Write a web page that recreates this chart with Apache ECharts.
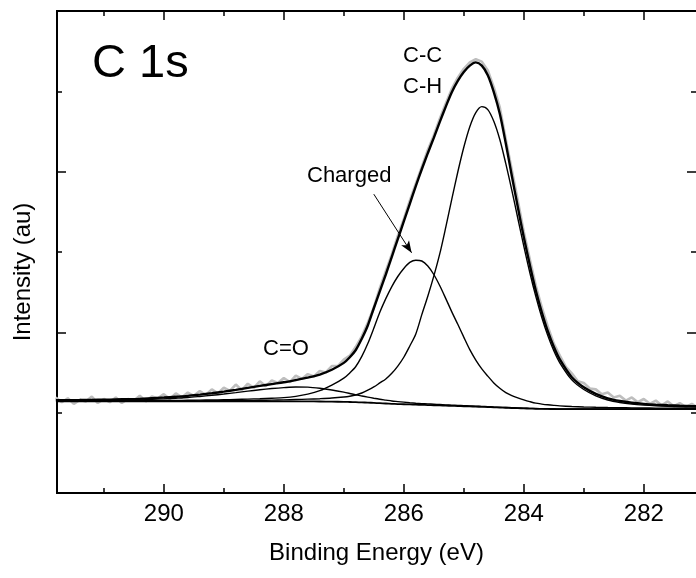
<!DOCTYPE html>
<html>
<head>
<meta charset="utf-8">
<script src="https://cdn.jsdelivr.net/npm/echarts@6/dist/echarts.min.js"></script>
<style>
html, body { margin: 0; padding: 0; background: #fff; }
#main { width: 696px; height: 578px; }
</style>
</head>
<body>
<div id="main"></div>
<script>
// binding energy grid of the fitted curves (eV), finer across the peak
var energy = [291.8, 291.6, 291.4, 291.2, 291.0, 290.8, 290.6, 290.4, 290.2, 290.0,
    289.8, 289.6, 289.4, 289.2, 289.0, 288.8, 288.6, 288.4, 288.2, 288.0,
    287.8, 287.6, 287.4, 287.2,
    287.0, 286.9, 286.8, 286.7, 286.6, 286.5, 286.4, 286.3, 286.2, 286.1,
    286.0, 285.9, 285.8, 285.7, 285.6, 285.5, 285.4, 285.3, 285.2, 285.1,
    285.0, 284.9, 284.8, 284.7, 284.6, 284.5, 284.4, 284.3, 284.2, 284.1,
    284.0, 283.9, 283.8, 283.7, 283.6, 283.5, 283.4,
    283.2, 283.0, 282.8, 282.6, 282.4, 282.2, 282.0, 281.8, 281.6, 281.4,
    281.2, 281.0];

var background = [1.14, 1.14, 1.14, 1.14, 1.14, 1.14, 1.14, 1.14, 1.14, 1.14,
    1.14, 1.14, 1.14, 1.14, 1.14, 1.14, 1.14, 1.14, 1.14, 1.14,
    1.14, 1.14, 1.139, 1.137,
    1.135, 1.1325, 1.130, 1.1275, 1.125, 1.1215, 1.118, 1.114, 1.110, 1.1075,
    1.105, 1.1025, 1.100, 1.0975, 1.095, 1.0925, 1.090, 1.0875, 1.085, 1.0825,
    1.080, 1.0775, 1.075, 1.0725, 1.070, 1.067, 1.064, 1.061, 1.058, 1.0555,
    1.053, 1.0505, 1.048, 1.047, 1.046, 1.0455, 1.045,
    1.045, 1.045, 1.045, 1.045, 1.045, 1.045, 1.045, 1.045, 1.045, 1.045,
    1.045, 1.045];

var peakCC = [1.143, 1.143, 1.143, 1.143, 1.143, 1.144, 1.144, 1.144, 1.145, 1.145,
    1.146, 1.146, 1.147, 1.148, 1.149, 1.150, 1.152, 1.154, 1.156, 1.159,
    1.163, 1.168, 1.174, 1.182,
    1.195, 1.205, 1.220, 1.245, 1.280, 1.320, 1.370, 1.420, 1.490, 1.580,
    1.690, 1.830, 1.980, 2.220, 2.450, 2.700, 2.979, 3.310, 3.658, 3.996,
    4.304, 4.560, 4.736, 4.810, 4.773, 4.627, 4.400, 4.100, 3.770, 3.420,
    3.073, 2.745, 2.447, 2.184, 1.959, 1.770, 1.621,
    1.408, 1.288, 1.210, 1.158, 1.127, 1.107, 1.094, 1.085, 1.079, 1.074,
    1.070, 1.066];

var peakCharged = [1.145, 1.146, 1.146, 1.147, 1.147, 1.148, 1.148, 1.149, 1.150, 1.151,
    1.152, 1.154, 1.156, 1.158, 1.161, 1.165, 1.169, 1.174, 1.180, 1.187,
    1.203, 1.230, 1.274, 1.344,
    1.430, 1.495, 1.575, 1.700, 1.860, 2.050, 2.250, 2.420, 2.570, 2.695,
    2.795, 2.870, 2.898, 2.888, 2.825, 2.720, 2.580, 2.420, 2.255, 2.100,
    1.940, 1.785, 1.655, 1.545, 1.455, 1.370, 1.304, 1.250, 1.213, 1.184,
    1.159, 1.137, 1.118, 1.107, 1.098, 1.091, 1.085,
    1.077, 1.071, 1.067, 1.064, 1.062, 1.060, 1.058, 1.057, 1.056, 1.055,
    1.054, 1.053];

var peakCO = [1.146, 1.147, 1.148, 1.149, 1.151, 1.153, 1.156, 1.159, 1.165, 1.172,
    1.180, 1.189, 1.202, 1.216, 1.232, 1.249, 1.268, 1.285, 1.300, 1.312,
    1.320, 1.318, 1.304, 1.282,
    1.255, 1.239, 1.222, 1.208, 1.194, 1.180, 1.167, 1.156, 1.145, 1.138,
    1.131, 1.124, 1.118, 1.113, 1.109, 1.105, 1.101, 1.097, 1.094, 1.090,
    1.087, 1.084, 1.081, 1.078, 1.075, 1.071, 1.068, 1.065, 1.062, 1.059,
    1.057, 1.054, 1.051, 1.050, 1.049, 1.048, 1.047,
    1.047, 1.047, 1.047, 1.047, 1.047, 1.047, 1.047, 1.047, 1.047, 1.047,
    1.047, 1.047];

var envelope = [1.154, 1.156, 1.157, 1.159, 1.161, 1.165, 1.168, 1.172, 1.180, 1.188,
    1.198, 1.209, 1.225, 1.242, 1.262, 1.284, 1.309, 1.333, 1.356, 1.378,
    1.406, 1.436, 1.474, 1.534,
    1.620, 1.690, 1.780, 1.920, 2.085, 2.300, 2.510, 2.720, 2.940, 3.160,
    3.380, 3.600, 3.820, 4.030, 4.230, 4.420, 4.620, 4.810, 4.990, 5.130,
    5.240, 5.320, 5.360, 5.320, 5.200, 4.990, 4.720, 4.350, 3.950, 3.560,
    3.183, 2.840, 2.520, 2.250, 2.014, 1.820, 1.663,
    1.442, 1.316, 1.234, 1.179, 1.146, 1.124, 1.109, 1.099, 1.092, 1.086,
    1.081, 1.077];

// measured spectrum (grey)
var rawEnergy = [291.8, 291.7, 291.6, 291.5, 291.4, 291.3, 291.2, 291.1, 291.0, 290.9,
    290.8, 290.7, 290.6, 290.5, 290.4, 290.3, 290.2, 290.1, 290.0, 289.9,
    289.8, 289.7, 289.6, 289.5, 289.4, 289.3, 289.2, 289.1, 289.0, 288.9,
    288.8, 288.7, 288.6, 288.5, 288.4, 288.3, 288.2, 288.1, 288.0, 287.9,
    287.8, 287.7, 287.6, 287.5, 287.4, 287.3, 287.2, 287.1, 287.0, 286.9,
    286.8, 286.7, 286.6, 286.5, 286.4, 286.3, 286.2, 286.1, 286.0, 285.9,
    285.8, 285.7, 285.6, 285.5, 285.4, 285.3, 285.2, 285.1, 285.0, 284.9,
    284.8, 284.7, 284.6, 284.5, 284.4, 284.3, 284.2, 284.1, 284.0, 283.9,
    283.8, 283.7, 283.6, 283.5, 283.4, 283.3, 283.2, 283.1, 283.0, 282.9,
    282.8, 282.7, 282.6, 282.5, 282.4, 282.3, 282.2, 282.1, 282.0, 281.9,
    281.8, 281.7, 281.6, 281.5, 281.4, 281.3, 281.2, 281.1, 281.0];

var rawCounts = [1.19, 1.13, 1.18, 1.11, 1.16, 1.14, 1.20, 1.12, 1.17, 1.13,
    1.19, 1.12, 1.17, 1.15, 1.21, 1.14, 1.20, 1.18, 1.23, 1.17,
    1.24, 1.19, 1.25, 1.21, 1.27, 1.22, 1.29, 1.24, 1.31, 1.27,
    1.35, 1.28, 1.36, 1.31, 1.39, 1.33, 1.40, 1.37, 1.43, 1.38,
    1.46, 1.42, 1.48, 1.45, 1.52, 1.50, 1.58, 1.58, 1.66, 1.71,
    1.82, 1.95, 2.12, 2.31, 2.55, 2.76, 2.97, 3.20, 3.41, 3.64,
    3.85, 4.06, 4.27, 4.45, 4.66, 4.85, 5.03, 5.17, 5.28, 5.36,
    5.40, 5.37, 5.26, 5.05, 4.80, 4.40, 4.02, 3.64, 3.25, 2.91,
    2.58, 2.31, 2.07, 1.86, 1.71, 1.57, 1.49, 1.39, 1.37, 1.30,
    1.29, 1.23, 1.25, 1.19, 1.21, 1.15, 1.19, 1.13, 1.17, 1.11,
    1.15, 1.09, 1.14, 1.08, 1.12, 1.07, 1.11, 1.06, 1.10];

var majorTicks = [282, 284, 286, 288, 290];
var minorTicks = [283, 285, 287, 289, 291];

var FONT = '"Liberation Sans", Arial, sans-serif';

function pairs(xs, ys) {
    return xs.map(function (x, i) { return [x, ys[i]]; });
}

function energyAxis(pos, ticks, len, withLabels) {
    return {
        type: 'value',
        position: pos,
        min: 281.13,
        max: 291.78,
        inverse: true,
        axisLine: { show: true, lineStyle: { color: '#000', width: 2 } },
        axisTick: { show: true, inside: true, length: len, customValues: ticks,
            lineStyle: { color: '#000', width: 1.5 } },
        axisLabel: { show: withLabels, customValues: ticks, margin: 9,
            color: '#000', fontSize: 24, fontFamily: FONT },
        splitLine: { show: false }
    };
}

function intensityAxis(pos, showLine) {
    return {
        type: 'value',
        position: pos,
        min: 0,
        max: 6,
        interval: 2,
        axisLine: { show: showLine, lineStyle: { color: '#000', width: 2 } },
        axisTick: { show: true, inside: true, length: 9, lineStyle: { color: '#000', width: 1.5 } },
        minorTick: { show: true, splitNumber: 2, length: 5, lineStyle: { color: '#000', width: 1.5 } },
        axisLabel: { show: false },
        splitLine: { show: false }
    };
}

var bottomMajor = energyAxis('bottom', majorTicks, 9, true);
bottomMajor.name = 'Binding Energy (eV)';
bottomMajor.nameLocation = 'middle';
bottomMajor.nameGap = 48;
bottomMajor.nameTextStyle = { color: '#000', fontSize: 24, fontFamily: FONT };

function curve(name, data, width, z) {
    return {
        name: name,
        type: 'line',
        data: data,
        showSymbol: false,
        smooth: 0.3,
        z: z,
        lineStyle: { color: '#000', width: width }
    };
}

var rawSeries = {
    name: 'measured',
    type: 'line',
    data: pairs(rawEnergy, rawCounts),
    showSymbol: false,
    z: 1,
    lineStyle: { color: '#bebebe', width: 2.6 }
};

var envSeries = curve('envelope', pairs(energy, envelope), 2.4, 6);
envSeries.markLine = {
    silent: true,
    symbol: ['none', 'arrow'],
    symbolSize: [7, 12],
    label: { show: false },
    lineStyle: { color: '#000', width: 1, type: 'solid' },
    data: [[{ coord: [286.5, 3.72] }, { coord: [285.87, 2.99] }]]
};

var option = {
    animation: false,
    backgroundColor: '#fff',
    grid: { left: 57, right: 0, top: 11, bottom: 85 },
    xAxis: [
        bottomMajor,
        energyAxis('bottom', minorTicks, 5, false),
        energyAxis('top', majorTicks, 9, false),
        energyAxis('top', minorTicks, 5, false)
    ],
    yAxis: [intensityAxis('left', true), intensityAxis('right', false)],
    series: [
        rawSeries,
        curve('background', pairs(energy, background), 1.8, 3),
        curve('C=O', pairs(energy, peakCO), 1.4, 4),
        curve('Charged', pairs(energy, peakCharged), 1.4, 4),
        curve('C-C / C-H', pairs(energy, peakCC), 1.4, 4),
        envSeries
    ],
    graphic: [
        { type: 'text', x: 92, y: 64, style: { text: 'C 1s', fill: '#000',
            font: '47px ' + FONT, verticalAlign: 'middle' } },
        { type: 'text', x: 403, y: 56, style: { text: 'C-C', fill: '#000',
            font: '22px ' + FONT, verticalAlign: 'middle' } },
        { type: 'text', x: 403, y: 87, style: { text: 'C-H', fill: '#000',
            font: '22px ' + FONT, verticalAlign: 'middle' } },
        { type: 'text', x: 307, y: 176, style: { text: 'Charged', fill: '#000',
            font: '22px ' + FONT, verticalAlign: 'middle' } },
        { type: 'text', x: 263, y: 349, style: { text: 'C=O', fill: '#000',
            font: '22px ' + FONT, verticalAlign: 'middle' } },
        { type: 'text', x: 23, y: 272, rotation: Math.PI / 2, style: { text: 'Intensity (au)',
            fill: '#000', font: '24px ' + FONT, align: 'center', verticalAlign: 'middle' } }
    ]
};

var chart = echarts.init(document.getElementById('main'));
chart.setOption(option);
</script>
</body>
</html>
